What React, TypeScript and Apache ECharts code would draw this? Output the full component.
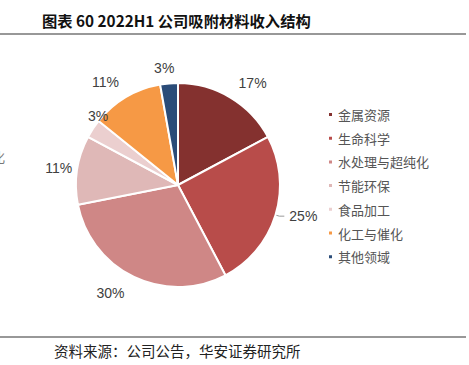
import React, { useEffect, useRef } from "react";
import * as echarts from "echarts";

const categories = ["金属资源", "生命科学", "水处理与超纯化", "节能环保", "食品加工", "化工与催化", "其他领域"];
const values = [17.2, 25.1, 29.6, 10.9, 3.0, 11.4, 2.8];
const colors = ["#84312F", "#B84C4A", "#CF8786", "#DFB8B7", "#EBCFCF", "#F69945", "#2B4C78"];
const titleText = "图表 60 2022H1 公司吸附材料收入结构";
const sourceText = "资料来源：公司公告，华安证券研究所";
// small nudges of the outside labels (Excel-like placement)
const labelNudge = [[-5, -8], [0, 0], [3, 9], [12, -1], [31, -8], [6, -8], [15, -7]];

export default function App() {
  const ref = useRef<HTMLDivElement>(null);
  useEffect(() => {
    if (!ref.current) return;
    const chart = echarts.init(ref.current, null, { renderer: "svg" });
    const cjk = '"Noto Sans CJK SC", sans-serif';
    chart.setOption({
      animation: false,
      backgroundColor: "#ffffff",
      color: colors,
      legend: {
        orient: "vertical",
        left: 322,
        top: 103,
        icon: "rect",
        itemWidth: 5,
        itemHeight: 5,
        itemGap: 10.7,
        data: categories,
        textStyle: { fontSize: 13, color: "#555555", fontFamily: cjk },
      },
      graphic: [
        {
          type: "text",
          left: 42,
          top: 12,
          style: { text: titleText, fontSize: 15.3, fontWeight: "bold", fill: "#111111", fontFamily: cjk },
        },
        {
          type: "line",
          shape: { x1: 0, y1: 34, x2: 466, y2: 34 },
          style: { stroke: "#333333", lineWidth: 1.2 },
        },
        {
          type: "line",
          shape: { x1: 0, y1: 337, x2: 466, y2: 337 },
          style: { stroke: "#333333", lineWidth: 1.2 },
        },
        {
          type: "text",
          left: 54,
          top: 343,
          style: { text: sourceText, fontSize: 14.5, fill: "#222222", fontFamily: cjk },
        },
        {
          type: "text",
          left: -8,
          top: 150,
          style: { text: "化", fontSize: 13, fill: "#777777", fontFamily: cjk },
        },
      ],
      series: [
        {
          type: "pie",
          center: [178, 185],
          radius: [0, 102],
          startAngle: 90,
          clockwise: true,
          avoidLabelOverlap: false,
          itemStyle: { borderColor: "#ffffff", borderWidth: 2 },
          label: {
            show: true,
            position: "outside",
            formatter: (p: any) => Math.round(p.value) + "%",
            fontSize: 14,
            color: "#404040",
            fontFamily: "Liberation Sans, Arial, sans-serif",
          },
          labelLine: { show: false, length: 8, length2: 4 },
          labelLayout: (p: any) => {
            const n = labelNudge[p.dataIndex] || [0, 0];
            return { dx: n[0], dy: n[1] };
          },
          data: categories.map((name, i) => ({
            name,
            value: values[i],
            labelLine:
              i === 1
                ? { show: true, length: 4, length2: 5, lineStyle: { color: "#999999", width: 1 } }
                : undefined,
          })),
        },
      ],
    });
    return () => chart.dispose();
  }, []);
  return (
    <div
      ref={ref}
      style={{ position: "fixed", left: 0, top: 0, width: 469, height: 365, background: "#fff" }}
    />
  );
}
